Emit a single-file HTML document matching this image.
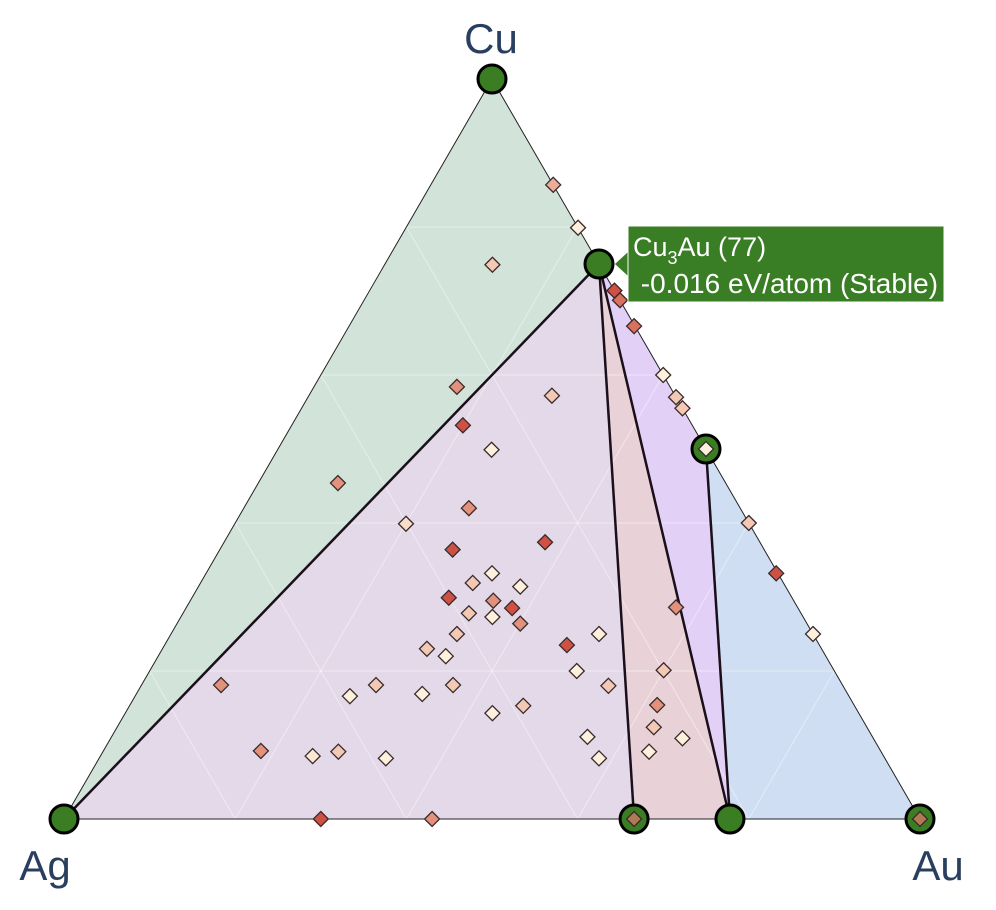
<!DOCTYPE html>
<html><head><meta charset="utf-8"><style>
html,body{margin:0;padding:0;background:#fff;width:996px;height:910px;overflow:hidden}
svg{display:block;font-family:"Liberation Sans",sans-serif}
</style></head><body>
<svg id="chart" width="996" height="910">
<g id="regions"></g><g id="grid"></g><g id="hull"></g><g id="stable"></g><g id="unstable"></g>
<text x="491" y="53" font-size="42" fill="#2a3f5f" text-anchor="middle">Cu</text>
<text x="45" y="880" font-size="42" fill="#2a3f5f" text-anchor="middle">Ag</text>
<text x="938" y="880" font-size="42" fill="#2a3f5f" text-anchor="middle">Au</text>
<g>
<polygon points="628,252 615,264 628,276" fill="#397d24"/>
<rect x="628" y="226" width="316" height="76" fill="#397d24" stroke="#fff" stroke-width="1"/>
<text x="633" y="256" font-size="27" fill="#fff">Cu<tspan font-size="18" dy="8">3</tspan><tspan dy="-8">Au (77)</tspan></text>
<text x="633" y="293" font-size="28" fill="#fff" xml:space="preserve"> -0.016 eV/atom (Stable)</text>
</g>
</svg>
<script>
// compositions: Cu fraction, Au fraction (Ag = rest)
const stableNames=["Cu","Ag","Au","Cu3Au","CuAu","AgAu2","Ag2Au7"];
const stableCu=[1,0,0,0.75,0.5,0,0];
const stableAu=[0,0,1,0.25,0.5,0.666,0.778];
const unstableCu=[0.857,0.799,0.749,0.714,0.701,0.666,0.6,0.570,0.555,0.584,0.572,0.532,0.499,0.454,0.420,0.399,0.4,0.332,0.364,0.374,0.332,0.314,0.319,0.299,0.295,0.285,0.273,0.278,0.264,0.286,0.25,0.25,0.235,0.25,0.23,0.22,0.2,0.201,0.181,0.181,0.166,0.169,0.181,0.18,0.154,0.143,0.153,0.124,0.109,0.111,0.091,0.092,0.085,0.091,0.082,0.082,0,0,0,0,0.5];
const unstableAu=[0.143,0.201,0.126,0.286,0.299,0.333,0.4,0.43,0.445,0.167,0.284,0.2,0.25,0.093,0.263,0.2,0.6,0.666,0.272,0.375,0.334,0.376,0.318,0.3,0.354,0.381,0.364,0.334,0.401,0.572,0.75,0.5,0.47,0.334,0.309,0.336,0.499,0.6,0.093,0.274,0.251,0.334,0.364,0.546,0.616,0.429,0.46,0.627,0.668,0.556,0.638,0.184,0.248,0.275,0.335,0.584,0.3,0.43,0.666,1,0.5];
// instability level 0 (near hull, pale) .. 3 (most red)
const unstableLevel=[1.5,0,1,3,2.5,2.5,0,1,1,2,1,3,0,2,2,0.5,1,3,3,3,0,0,1,3,2,3,0,1,2,2,0,0,3,1,1,0,0,1,2,1,0,0,1,1,2,0,1,1,0,0,0,2,0.2,1,0,0,3,2,2,2,0];
const hullRegions=[[0,1,3],[1,3,5],[5,3,6],[3,4,6],[4,2,6]];
const tieLines=[[1,3],[3,5],[3,6],[4,6]];
const regionColors=["rgba(165,200,180,0.5)","rgba(200,180,210,0.5)","rgba(210,165,175,0.5)","rgba(190,150,235,0.45)","rgba(160,190,230,0.5)"];
const NS="http://www.w3.org/2000/svg";
const A={x:64,y:819},W=856,H=740;
function px(cu,au){return [A.x+W*(au+cu/2),A.y-H*cu];}
function mk(tag,attrs,parent){const e=document.createElementNS(NS,tag);for(const k in attrs)e.setAttribute(k,attrs[k]);document.getElementById(parent).appendChild(e);return e;}
function pts(idx){return idx.map(i=>px(stableCu[i],stableAu[i]).join(",")).join(" ");}
hullRegions.forEach((r,i)=>{
 const e=mk("polygon",{points:pts(r),fill:regionColors[i],stroke:"none"},"regions");
 
 
});
[0.2,0.4,0.6,0.8].forEach(t=>{
 [[px(t,0),px(t,1-t)],[px(0,t),px(1-t,t)],[px(0,1-t),px(1-t,0)]].forEach(l=>{
  const g=mk("line",{x1:l[0][0],y1:l[0][1],x2:l[1][0],y2:l[1][1],stroke:"#fff","stroke-width":1,opacity:0.45},"grid");
  
  
 });
});
const outer=mk("polygon",{points:pts([0,1,2]),fill:"none",stroke:"#222","stroke-width":1},"hull");


tieLines.forEach(t=>{
 const a=px(stableCu[t[0]],stableAu[t[0]]),b=px(stableCu[t[1]],stableAu[t[1]]);
 const e=mk("line",{x1:a[0],y1:a[1],x2:b[0],y2:b[1],stroke:"#1a0f1a","stroke-width":2.5},"hull");
 
 
});
stableCu.forEach((c,i)=>{
 const p=px(c,stableAu[i]);
 const e=mk("circle",{cx:p[0],cy:p[1],r:14,fill:"#3a7d22",stroke:"#000","stroke-width":3},"stable");
 
 
});
const cols=["#fdf0dc","#f3c9b5","#e2917c","#cf5144"];
function col(l){const i=Math.min(2,Math.floor(l));const f=l-i;const a=cols[i],b=cols[i+1];
 const h=s=>[1,3,5].map(k=>parseInt(s.substr(k,2),16));const x=h(a),y=h(b);
 return "rgb("+x.map((v,j)=>Math.round(v+(y[j]-v)*f)).join(",")+")";}
unstableCu.forEach((c,i)=>{
 const p=px(c,unstableAu[i]);const s=7.5;
 const onStable=(c===0&&(unstableAu[i]===0.666||unstableAu[i]===1));
 const e=mk("polygon",{points:[[p[0],p[1]-s],[p[0]+s,p[1]],[p[0],p[1]+s],[p[0]-s,p[1]]].map(q=>q.join(",")).join(" "),
  fill:onStable?"#b07a55":col(unstableLevel[i]),stroke:"#3a2a2a","stroke-width":1.3},"unstable");
 
 
});
</script>
</body></html>
